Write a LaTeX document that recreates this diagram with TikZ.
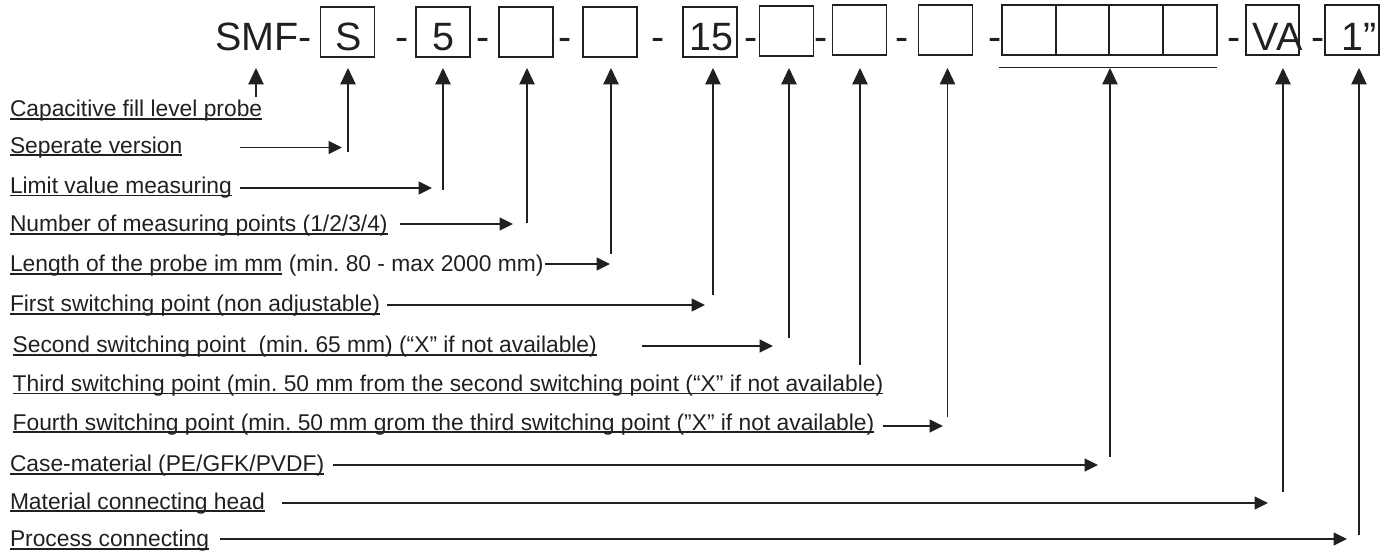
\documentclass[tikz,border=0pt]{standalone}
\usepackage{fontspec}
\setmainfont{Liberation Sans}
\usetikzlibrary{arrows.meta}
\definecolor{ink}{HTML}{231F20}
\frenchspacing
\newcommand\ulx[1]{\setbox0\hbox{#1}\rlap{\rule[-3pt]{\wd0}{1.8pt}}\box0\relax}
\newcommand\lblfont{\fontsize{22.8}{27}\selectfont}
\newcommand\bigfont{\fontsize{39.5}{44}\selectfont}
\begin{document}
\begin{tikzpicture}[x=1pt,y=-1pt,
  lbl/.style={anchor=base west,inner sep=0pt,outer sep=0pt,font=\lblfont,text=ink},
  big/.style={anchor=base,inner sep=0pt,outer sep=0pt,font=\bigfont,text=ink},
  cell/.style={draw=ink,line width=1.2pt,minimum width=54pt,minimum height=50pt,inner sep=0pt,outer sep=0pt},
  harr/.style={draw=ink,line width=1.1pt,-{Triangle[length=13.5pt,width=13pt]}},
  varr/.style={draw=ink,line width=1.1pt,-{Triangle[length=16.5pt,width=15.5pt]}},
  plain/.style={draw=ink,line width=1.2pt}]
\useasboundingbox (0,0) rectangle (1393,553);

% code row
\node[big,anchor=base west] (smf) at (215,51) {SMF-};
\node[cell] (bS) at (347.5,32) {};
\node[big] (tS) at (348.5,51) {S};
\node[big] (d1) at (402.5,51) {-};
\node[cell] (b5) at (443,32) {};
\node[big] (t5) at (443.5,51) {5};
\node[big] (d2) at (483.5,51) {-};
\node[cell] (b3) at (526,32) {};
\node[big] (d3) at (565.5,51) {-};
\node[cell] (b4) at (610,32) {};
\node[big] (d4) at (658.5,51) {-};
\node[cell] (b15) at (710,32) {};
\node[big] (t15) at (711,51) {15};
\node[big] (d5) at (751,51) {-};
\node[cell] (b6) at (786.5,31) {};
\node[big] (d6) at (821,51) {-};
\node[cell] (b7) at (859.5,30) {};
\node[big] (d7) at (902.5,51) {-};
\node[cell] (b8) at (945.5,30) {};
\node[big] (d8) at (995,51) {-};
\node[cell,minimum width=54pt] (c1) at (1029,30) {};
\node[cell,minimum width=53pt] (c2) at (1082.5,30) {};
\node[cell,minimum width=54pt] (c3) at (1136,30) {};
\node[cell,minimum width=54pt] (c4) at (1190,30) {};
\node[big] (d9) at (1234.5,51) {-};
\node[cell,minimum width=53pt] (bVA) at (1272.5,30) {};
\node[big] (tVA) at (1277.5,51) {VA};
\node[big] (d10) at (1318,51) {-};
\node[cell] (b1z) at (1352,30) {};
\node[big] (t1z) at (1359,51) {1”};

% bracket line under composite box
\coordinate (ulA) at (999,67.7);
\coordinate (ulB) at (1217,67.7);
\draw[plain] (ulA) -- (ulB);

% labels
\node[lbl] (l1) at (10,116.7) {\ulx{Capacitive fill level probe}};
\node[lbl] (l2) at (10,153.3) {\ulx{Seperate version}};
\node[lbl] (l3) at (10,193.5) {\ulx{Limit value measuring}};
\node[lbl] (l4) at (10,232) {\ulx{Number of measuring points (1/2/3/4)}};
\node[lbl] (l5) at (10,271.7) {\ulx{Length of the probe im mm} (min. 80 - max 2000 mm)};
\node[lbl] (l6) at (10,311.7) {\ulx{First switching point (non adjustable)}};
\node[lbl] (l7) at (12.7,353) {\ulx{Second switching point\ \ (min. 65 mm) (“X” if not available)}};
\node[lbl] (l8) at (12.7,391.5) {\ulx{Third switching point (min. 50 mm from the second switching point (“X” if not available)}};
\node[lbl] (l9) at (12.7,430) {\ulx{Fourth switching point (min. 50 mm grom the third switching point (”X” if not available)}};
\node[lbl] (l10) at (10,471.5) {\ulx{Case-material (PE/GFK/PVDF)}};
\node[lbl] (l11) at (10,509) {\ulx{Material connecting head}};
\node[lbl] (l12) at (10,546.7) {\ulx{Process connecting}};

% tip level of vertical arrows
\coordinate (tip) at (0,68);

% vertical connectors (bottom ends)
\coordinate (v1) at (256,97);
\coordinate (v2) at (348,152);
\coordinate (v3) at (443,190);
\coordinate (v4) at (527,223);
\coordinate (v5) at (611,254);
\coordinate (v6) at (713,295);
\coordinate (v7) at (789,338);
\coordinate (v8) at (860,365);
\coordinate (v9) at (947.5,417);
\coordinate (v10) at (1110,457);
\coordinate (v11) at (1283,492);
\coordinate (v12) at (1359,535);
\foreach \i in {1,...,12}{\draw[varr] (v\i) -- (v\i |- tip);}

% horizontal connectors
\coordinate (h2a) at (240,147.5);  \coordinate (h2b) at (342,147.5);
\coordinate (h3a) at (240,188);    \coordinate (h3b) at (432,188);
\coordinate (h4a) at (400,224);    \coordinate (h4b) at (513,224);
\coordinate (h5a) at (545,264);    \coordinate (h5b) at (610,264);
\coordinate (h6a) at (387,305);    \coordinate (h6b) at (705,305);
\coordinate (h7a) at (642,346);    \coordinate (h7b) at (773,346);
\coordinate (h9a) at (883,426);    \coordinate (h9b) at (943,426);
\coordinate (h10a) at (333,465);   \coordinate (h10b) at (1098,465);
\coordinate (h11a) at (282,503);   \coordinate (h11b) at (1268,503);
\coordinate (h12a) at (220,539);   \coordinate (h12b) at (1347,539);
\foreach \i in {2,3,4,5,6,7,9,10,11,12}{\draw[harr] (h\i a) -- (h\i b);}
\end{tikzpicture}
\end{document}
